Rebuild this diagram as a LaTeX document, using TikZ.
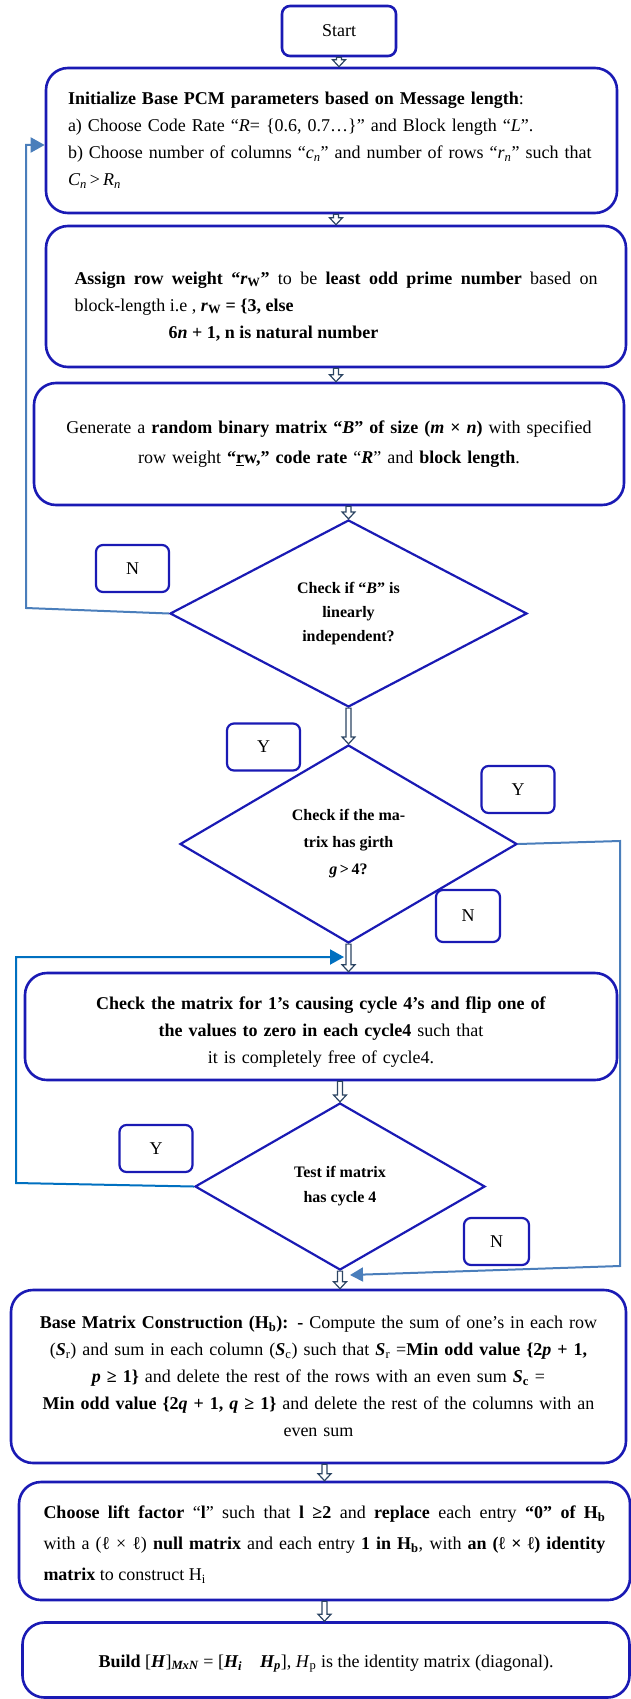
\documentclass[tikz,border=0pt]{standalone}
\usepackage{fontspec}
\setmainfont{Liberation Serif}
\usetikzlibrary{positioning,arrows.meta,shapes.geometric,calc}
\definecolor{boxblue}{HTML}{1A1AB4}
\definecolor{loopblue}{HTML}{4A7EBB}
\definecolor{yesblue}{HTML}{0070C0}
\definecolor{arrowgray}{HTML}{2C4563}

% hollow block arrow, drawn at the x of the first point
\newcommand{\flowarrow}[2]{%
  \draw[blockarrow] let \p1=(#1), \p2=(#2) in
    (\x1-2.5pt,\y1) -- (\x1-2.5pt,\y2+7pt) -- (\x1-6.5pt,\y2+7pt) -- (\x1,\y2)
    -- (\x1+6.5pt,\y2+7pt) -- (\x1+2.5pt,\y2+7pt) -- (\x1+2.5pt,\y1) -- cycle;}

\begin{document}
\begin{tikzpicture}[x=1pt,y=-1pt,
    stepbox/.style={draw=boxblue, line width=2.6pt, rounded corners=22pt, fill=white,
      inner sep=0pt, font=\fontsize{18}{27}\selectfont},
    decision/.style={draw=boxblue, line width=2.2pt, diamond, inner sep=0pt, align=center,
      font=\bfseries\fontsize{16}{24}\selectfont},
    tag/.style={draw=boxblue, line width=2.2pt, rounded corners=7pt, minimum width=73pt,
      minimum height=47pt, font=\fontsize{18}{20}\selectfont},
    blockarrow/.style={draw=arrowgray, line width=1.2pt, fill=white},
    loopline/.style={draw=loopblue, line width=2pt}]
  \useasboundingbox (0,0) rectangle (630,1699);

  % process boxes
  \node[stepbox, rounded corners=8pt, minimum width=114pt, minimum height=50pt] (start) at (339,31) {Start};
  \node[stepbox, minimum width=571pt, minimum height=145pt, text width=527pt, align=left] (init) at (331.5,140.5)
    {\textbf{Initialize Base PCM parameters based on Message length}:\\
     a) Choose Code Rate “\textit{R}= \{0.6, 0.7…\}” and Block length “\textit{L}”.\\
     b) Choose number of columns “\textit{c}\textsubscript{\textit{n}}” and number of rows “\textit{r}\textsubscript{\textit{n}}” such that\\
     \textit{C}\textsubscript{\textit{n}}\,>\,\textit{R}\textsubscript{\textit{n}}};
  \node[stepbox, minimum width=580pt, minimum height=141pt, text width=523pt, align=justify] (assign) at (336,296.5)
    {\rule{0pt}{32pt}\textbf{Assign row weight “\textit{r}\textsubscript{W}”} to be \textbf{least odd prime number} based on\linebreak
     block-length i.e , \textbf{\textit{r}\textsubscript{W} = \{3, else}\\
     \hspace*{94pt}\textbf{6\textit{n} + 1, n is natural number}};
  \node[stepbox, minimum width=590pt, minimum height=122pt, text width=560pt, align=center,
    font=\fontsize{18}{30}\selectfont] (gen) at (329,444)
    {Generate a \textbf{random binary matrix “\textit{B}” of size (\textit{m} × \textit{n})} with specified\\
     row weight \textbf{“\underline{r}w,” code rate} “\textbf{\textit{R}}” and \textbf{block length}.};

  % decisions
  \node[decision, minimum width=357pt, minimum height=187pt] (dec1) at (348.5,613.5)
    {Check if “\textit{B}” is\\linearly\\independent?};
  \node[decision, minimum width=337pt, minimum height=198pt, font=\bfseries\fontsize{16}{27}\selectfont] (dec2) at (348.5,844)
    {Check if the ma-\\trix has girth\\\textit{g}\,>\,4?};

  \node[stepbox, minimum width=592pt, minimum height=107pt, text width=560pt, align=center,
    font=\fontsize{18}{27}\selectfont] (flip) at (321,1026.5)
    {\rule{0pt}{24pt}\textbf{Check the matrix for 1’s causing cycle 4’s and flip one of}\\
     \textbf{the values to zero in each cycle4} such that\\
     it is completely free of cycle4.};
  \node[decision, minimum width=290pt, minimum height=167pt, font=\bfseries\fontsize{16}{25}\selectfont] (dec3) at (340,1186.5)
    {Test if matrix\\has cycle 4};

  \node[stepbox, minimum width=615pt, minimum height=173pt, text width=570pt, align=center] (base) at (318.5,1376.5)
    {\textbf{Base Matrix Construction (H\textsubscript{b}): -} Compute the sum of one’s in each row\\
     (\textbf{\textit{S}}\textsubscript{r}) and sum in each column (\textbf{\textit{S}}\textsubscript{c}) such that \textbf{\textit{S}}\textsubscript{r} =\textbf{Min odd value \{2\textit{p} + 1,}\\
     \textbf{\textit{p} ≥ 1\}} and delete the rest of the rows with an even sum \textbf{\textit{S}}\textsubscript{\textbf{c}} =\\
     \textbf{Min odd value \{2\textit{q} + 1, \textit{q} ≥ 1\}} and delete the rest of the columns with an\\
     even sum};
  \node[stepbox, minimum width=611pt, minimum height=118pt, text width=562pt, align=justify,
    font=\fontsize{18}{31}\selectfont] (lift) at (324.5,1541)
    {\rule{0pt}{20pt}\textbf{Choose lift factor} “\textbf{l}” such that \textbf{l ≥2} and \textbf{replace} each entry \textbf{“0” of H\textsubscript{b}}\linebreak
     with a (ℓ × ℓ) \textbf{null matrix} and each entry \textbf{1 in H\textsubscript{b}}, with \textbf{an (ℓ × ℓ) identity}\linebreak
     \textbf{matrix} to construct H\textsubscript{i}};
  \node[stepbox, minimum width=607pt, minimum height=75pt, align=center] (build) at (326,1660)
    {\rule{0pt}{20pt}\textbf{Build} [\textbf{\textit{H}}]\textsubscript{\textbf{\textit{MxN}}} = [\textbf{\textit{H\textsubscript{i}}}\quad\textbf{\textit{H\textsubscript{p}}}], \textit{H}\textsubscript{p} is the identity matrix (diagonal).};

  % answer tags
  \node[tag] (n1) at (132.5,568.5) {N};
  \node[tag] (y1) at (263.5,747) {Y};
  \node[tag] (y2) at (518,789.5) {Y};
  \node[tag, minimum width=64pt, minimum height=52pt] (n2) at (468,916) {N};
  \node[tag] (y3) at (156,1148.5) {Y};
  \node[tag, minimum width=65pt] (n3) at (496.5,1241.5) {N};

  % main flow
  \flowarrow{start.south}{init.north}
  \flowarrow{assign.north |- init.south}{assign.north}
  \flowarrow{assign.south}{gen.north}
  \flowarrow{dec1.north |- gen.south}{dec1.north}
  \flowarrow{dec1.south}{dec2.north}
  \flowarrow{dec2.south}{flip.north}
  \flowarrow{dec3.north |- flip.south}{dec3.north}
  \flowarrow{dec3.south}{base.north}
  \flowarrow{lift.north |- base.south}{lift.north}
  \flowarrow{lift.south}{build.north}

  % loops back
  \coordinate (mergeF) at (344,957);
  \coordinate (mergeB) at (350,1275);
  \draw[loopline, -{Triangle[length=14pt,width=15pt]}] (dec1.west) -- (26,608) -- (26,145) -- (init.west |- 0,145);
  \draw[loopline, -{Triangle[length=13pt,width=14pt]}] (dec2.east) -- (620,841) -- (620,1266) -- (mergeB);
  \draw[loopline, draw=yesblue, -{Triangle[length=14pt,width=15pt]}] (dec3.west) -- (16,1183) -- (16,957) -- (mergeF);
\end{tikzpicture}
\end{document}
